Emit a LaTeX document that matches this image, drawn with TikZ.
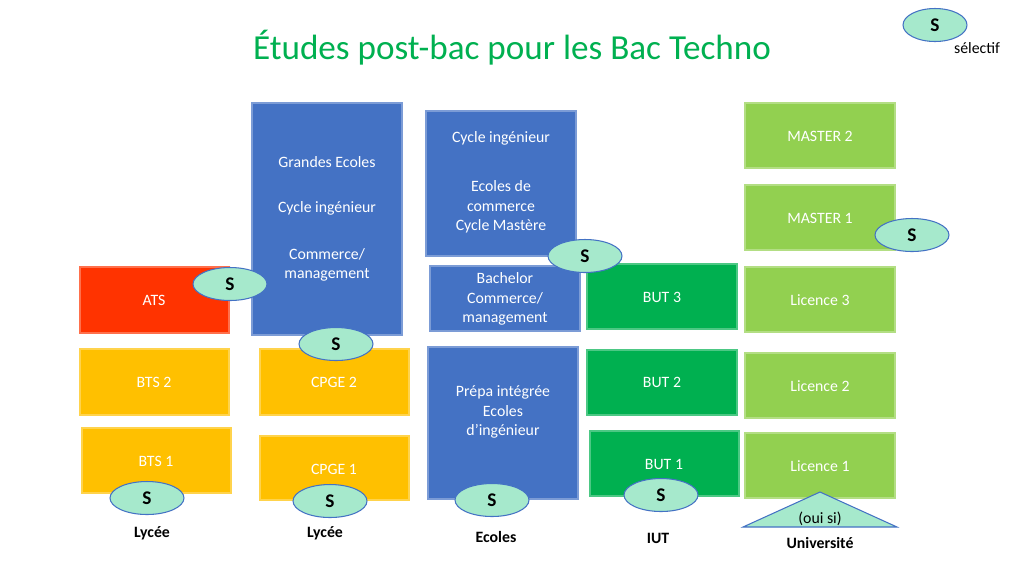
\documentclass[tikz,border=0pt]{standalone}
\usepackage{fontspec}
\setmainfont{Carlito}
\usetikzlibrary{shapes.geometric}
\definecolor{cblue}{HTML}{4472C4}
\definecolor{cyel}{HTML}{FFC000}
\definecolor{cdg}{HTML}{00B050}
\definecolor{clg}{HTML}{92D050}
\definecolor{cred}{HTML}{FF3300}
\definecolor{cs}{HTML}{A6E9CC}
\definecolor{ctitle}{HTML}{00B050}
\tikzset{
 bx/.style={draw=#1!70!white,line width=0.6pt,fill=#1},
 btxt/.style={text=white,font=\fontsize{9}{11}\selectfont,align=center,inner sep=0},
 sel/.style={ellipse,draw=cblue,line width=0.6pt,fill=cs,minimum width=#1,minimum height=0.66cm,inner sep=0,font=\bfseries\fontsize{11}{13}\selectfont},
 sel/.default=1.48cm,
 lab/.style={font=\bfseries\fontsize{9}{11}\selectfont,inner sep=0}
}
\begin{document}
\begin{tikzpicture}[x=0.02cm,y=-0.02cm]
\useasboundingbox (0,0) rectangle (1024,576);
\node[text=ctitle,font=\fontsize{20}{24}\selectfont,inner sep=0] (title) at (512,48) {Études post-bac pour les Bac Techno};
% blue
\draw[bx=cblue] (252,103) rectangle (402,335);
\node[btxt] (ge1) at (327,162) {Grandes Ecoles};
\node[btxt] (ge2) at (327,208) {Cycle ingénieur};
\node[btxt] (ge3) at (327,265) {Commerce/\\management};
\draw[bx=cblue] (426,111) rectangle (576,256);
\node[btxt] (ci1) at (501,138) {Cycle ingénieur};
\node[btxt] (ci2) at (501,207) {Ecoles de\\commerce\\Cycle Mastère};
\draw[bx=cblue] (430,266) rectangle (580,331);
\node[btxt] (ba) at (505,299) {Bachelor\\Commerce/\\management};
\draw[bx=cblue] (428,347) rectangle (578,499);
\node[btxt] (pi) at (503,412) {Prépa intégrée\\Ecoles\\d’ingénieur};
% red, yellow
\draw[bx=cred] (80,267) rectangle (229,333); \node[btxt] (ats) at (154,300) {ATS};
\draw[bx=cyel] (80,349) rectangle (229,415); \node[btxt] (bts2) at (154,382) {BTS 2};
\draw[bx=cyel] (82,428) rectangle (231,493); \node[btxt] (bts1) at (156,461) {BTS 1};
\draw[bx=cyel] (260,349) rectangle (409,415); \node[btxt] (cp2) at (334,382) {CPGE 2};
\draw[bx=cyel] (260,436) rectangle (409,500); \node[btxt] (cp1) at (334,469) {CPGE 1};
% dark green
\draw[bx=cdg] (587,264) rectangle (737,329); \node[btxt] (but3) at (662,297) {BUT 3};
\draw[bx=cdg] (587,350) rectangle (737,415); \node[btxt] (but2) at (662,382) {BUT 2};
\draw[bx=cdg] (590,431) rectangle (739,496); \node[btxt] (but1) at (664,464) {BUT 1};
% light green
\draw[bx=clg] (745,103) rectangle (895,168); \node[btxt] (m2) at (820,136) {MASTER 2};
\draw[bx=clg] (745,185) rectangle (895,250); \node[btxt] (m1) at (820,218) {MASTER 1};
\draw[bx=clg] (745,267) rectangle (895,332); \node[btxt] (l3) at (820,300) {Licence 3};
\draw[bx=clg] (745,353) rectangle (895,418); \node[btxt] (l2) at (820,386) {Licence 2};
\draw[bx=clg] (745,433) rectangle (895,498); \node[btxt] (l1) at (820,466) {Licence 1};
% triangle
\draw[draw=cblue,line width=0.6pt,fill=cs] (820,492) -- (897,527) -- (743,527) -- cycle;
\node[font=\fontsize{9}{11}\selectfont,inner sep=0] (oui) at (820,519) {(oui si)};
\node[lab] (univ) at (820,543) {Université};
% selective ellipses
\node[sel=1.28cm] (s0) at (935,25) {S};
\node[font=\fontsize{9}{11}\selectfont,inner sep=0] (selt) at (977,48) {sélectif};
\node[sel] (s1) at (912,235) {S};
\node[sel] (s2) at (585,256) {S};
\node[sel] (s3) at (230,284) {S};
\node[sel] (s4) at (336,344) {S};
\node[sel] (s5) at (147,498) {S};
\node[sel] (s6) at (330,501) {S};
\node[sel] (s7) at (492,500) {S};
\node[sel] (s8) at (661,495) {S};
\node[lab] (ly1) at (152,533) {Lycée};
\node[lab] (ly2) at (325,533) {Lycée};
\node[lab] (ec) at (496,537) {Ecoles};
\node[lab] (iut) at (658,538) {IUT};
\end{tikzpicture}
\end{document}
